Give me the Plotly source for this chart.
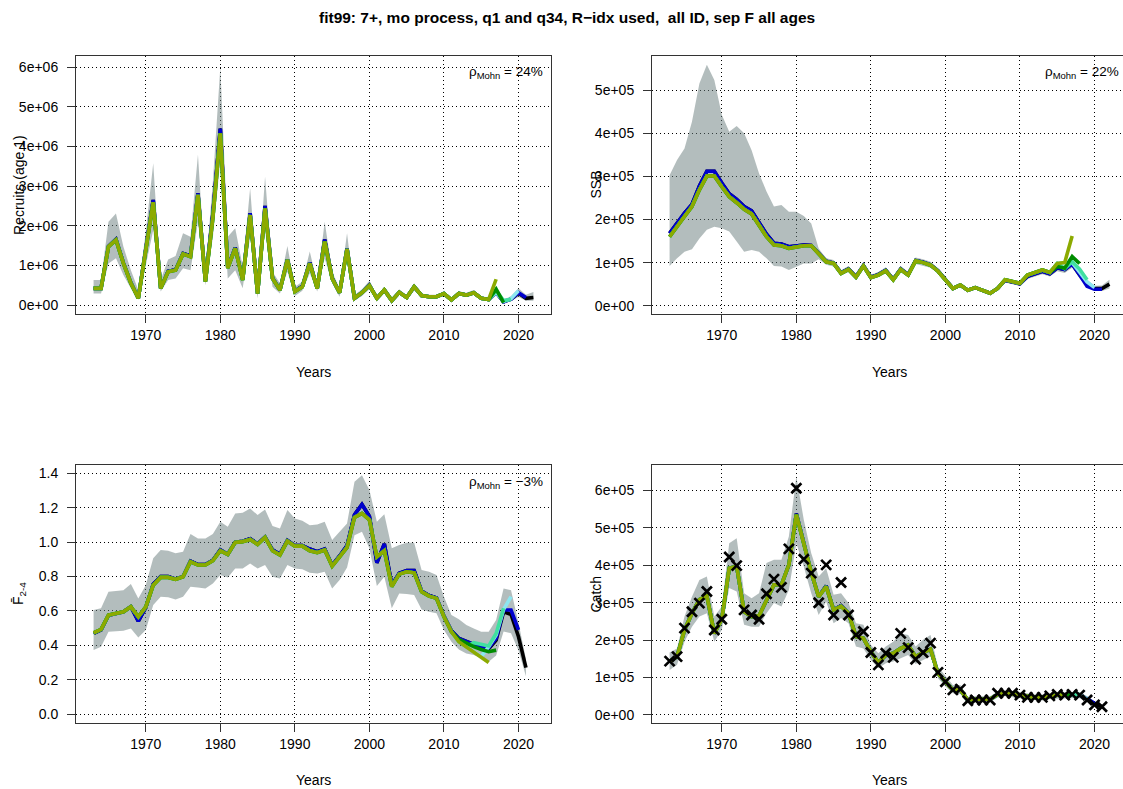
import plotly.graph_objects as go

# ---------------- data ----------------
years = list(range(1963, 2023))      # recruits, SSB
years_c = list(range(1963, 2022))    # F, catch

x_ticks = [1970, 1980, 1990, 2000, 2010, 2020]
x_ticklabels = ["1970", "1980", "1990", "2000", "2010", "2020"]

rec_ticks = [0, 1e6, 2e6, 3e6, 4e6, 5e6, 6e6]
rec_ticklabels = ["0e+00", "1e+06", "2e+06", "3e+06", "4e+06", "5e+06", "6e+06"]
ssb_ticks = [0, 1e5, 2e5, 3e5, 4e5, 5e5]
ssb_ticklabels = ["0e+00", "1e+05", "2e+05", "3e+05", "4e+05", "5e+05"]
f_ticks = [0.0, 0.2, 0.4, 0.6, 0.8, 1.0, 1.2, 1.4]
f_ticklabels = ["0.0", "0.2", "0.4", "0.6", "0.8", "1.0", "1.2", "1.4"]
catch_ticks = [0, 1e5, 2e5, 3e5, 4e5, 5e5, 6e5]
catch_ticklabels = ["0e+00", "1e+05", "2e+05", "3e+05", "4e+05", "5e+05", "6e+05"]

# Recruits (age 1), 1963-2022
rec_base = [0.42e6, 0.42e6, 1.48e6, 1.66e6, 1.06e6, 0.56e6, 0.17e6, 1.35e6, 2.65e6, 0.42e6,
            0.85e6, 0.89e6, 1.30e6, 1.24e6, 2.82e6, 0.60e6, 2.30e6, 4.45e6, 0.95e6, 1.45e6,
            0.64e6, 2.32e6, 0.29e6, 2.50e6, 0.68e6, 0.38e6, 1.15e6, 0.35e6, 0.47e6, 1.07e6,
            0.42e6, 1.65e6, 0.68e6, 0.31e6, 1.43e6, 0.17e6, 0.31e6, 0.50e6, 0.17e6, 0.38e6,
            0.11e6, 0.32e6, 0.19e6, 0.46e6, 0.24e6, 0.21e6, 0.21e6, 0.29e6, 0.13e6, 0.29e6,
            0.25e6, 0.31e6, 0.17e6, 0.14e6, 0.32e6, 0.08e6, 0.15e6, 0.30e6, 0.17e6, 0.19e6]
rec_hi = [0.63e6, 0.63e6, 2.10e6, 2.31e6, 1.47e6, 0.88e6, 0.38e6, 1.85e6, 3.58e6, 0.63e6,
          1.15e6, 1.24e6, 1.81e6, 1.72e6, 3.79e6, 0.80e6, 3.10e6, 6.00e6, 1.72e6, 1.94e6,
          0.97e6, 2.95e6, 0.50e6, 3.24e6, 0.84e6, 0.55e6, 1.49e6, 0.46e6, 0.59e6, 1.35e6,
          0.55e6, 2.10e6, 0.84e6, 0.42e6, 1.81e6, 0.25e6, 0.40e6, 0.61e6, 0.23e6, 0.45e6,
          0.15e6, 0.40e6, 0.24e6, 0.55e6, 0.29e6, 0.26e6, 0.26e6, 0.35e6, 0.17e6, 0.35e6,
          0.31e6, 0.38e6, 0.22e6, 0.19e6, 0.42e6, 0.14e6, 0.22e6, 0.42e6, 0.26e6, 0.33e6]
rec_lo = [0.29e6, 0.29e6, 1.05e6, 1.18e6, 0.76e6, 0.42e6, 0.13e6, 1.00e6, 1.89e6, 0.34e6,
          0.63e6, 0.67e6, 0.93e6, 0.88e6, 2.10e6, 0.50e6, 1.70e6, 3.66e6, 0.67e6, 0.88e6,
          0.42e6, 1.72e6, 0.17e6, 1.89e6, 0.46e6, 0.29e6, 0.84e6, 0.23e6, 0.36e6, 0.80e6,
          0.34e6, 1.18e6, 0.55e6, 0.21e6, 1.14e6, 0.11e6, 0.23e6, 0.40e6, 0.11e6, 0.29e6,
          0.08e6, 0.26e6, 0.15e6, 0.38e6, 0.20e6, 0.17e6, 0.17e6, 0.24e6, 0.10e6, 0.24e6,
          0.20e6, 0.25e6, 0.13e6, 0.10e6, 0.24e6, 0.05e6, 0.10e6, 0.20e6, 0.11e6, 0.11e6]
rec_olive = [0.42e6, 0.42e6, 1.47e6, 1.64e6, 1.05e6, 0.55e6, 0.17e6, 1.35e6, 2.59e6, 0.42e6,
             0.84e6, 0.88e6, 1.29e6, 1.22e6, 2.78e6, 0.59e6, 2.20e6, 4.33e6, 0.93e6, 1.43e6,
             0.63e6, 2.27e6, 0.29e6, 2.44e6, 0.67e6, 0.38e6, 1.14e6, 0.34e6, 0.46e6, 1.05e6,
             0.42e6, 1.60e6, 0.67e6, 0.31e6, 1.41e6, 0.17e6, 0.31e6, 0.49e6, 0.17e6, 0.38e6,
             0.11e6, 0.32e6, 0.19e6, 0.46e6, 0.24e6, 0.21e6, 0.21e6, 0.29e6, 0.13e6, 0.29e6,
             0.25e6, 0.31e6, 0.17e6, 0.14e6, 0.65e6]
# retro peels: (last year shared with the reference run, own tail values)
# first peel (blue) shares the final run, the others share the oldest peel (olive)
rec_peels = [(2019, [0.31e6, 0.19e6]),
             (2016, [0.32e6, 0.09e6, 0.16e6, 0.36e6]),
             (2016, [0.36e6, 0.11e6, 0.14e6]),
             (2016, [0.40e6, 0.06e6])]

# SSB, 1963-2022
ssb_base = [1.68e5, 1.93e5, 2.15e5, 2.35e5, 2.78e5, 3.12e5, 3.12e5, 2.85e5, 2.60e5, 2.47e5,
            2.30e5, 2.20e5, 1.93e5, 1.66e5, 1.45e5, 1.43e5, 1.37e5, 1.40e5, 1.41e5, 1.40e5,
            1.21e5, 1.03e5, 0.99e5, 0.76e5, 0.85e5, 0.67e5, 0.93e5, 0.66e5, 0.72e5, 0.82e5,
            0.61e5, 0.85e5, 0.72e5, 1.05e5, 1.01e5, 0.95e5, 0.81e5, 0.61e5, 0.40e5, 0.48e5,
            0.36e5, 0.42e5, 0.35e5, 0.29e5, 0.40e5, 0.59e5, 0.55e5, 0.51e5, 0.68e5, 0.74e5,
            0.80e5, 0.74e5, 0.88e5, 0.84e5, 0.97e5, 0.72e5, 0.52e5, 0.40e5, 0.40e5, 0.50e5]
ssb_hi = [3.03e5, 3.38e5, 3.65e5, 4.27e5, 5.16e5, 5.59e5, 5.24e5, 4.43e5, 4.04e5, 4.17e5,
          4.00e5, 3.61e5, 3.07e5, 2.65e5, 2.30e5, 2.34e5, 2.18e5, 2.18e5, 2.08e5, 1.91e5,
          1.33e5, 1.10e5, 1.06e5, 0.82e5, 0.92e5, 0.73e5, 1.00e5, 0.72e5, 0.78e5, 0.89e5,
          0.67e5, 0.92e5, 0.78e5, 1.12e5, 1.08e5, 1.02e5, 0.87e5, 0.66e5, 0.44e5, 0.52e5,
          0.40e5, 0.46e5, 0.39e5, 0.33e5, 0.44e5, 0.64e5, 0.60e5, 0.56e5, 0.74e5, 0.80e5,
          0.87e5, 0.81e5, 0.96e5, 0.93e5, 1.06e5, 0.80e5, 0.60e5, 0.46e5, 0.47e5, 0.60e5]
ssb_lo = [0.92e5, 1.10e5, 1.25e5, 1.31e5, 1.56e5, 1.76e5, 1.83e5, 1.80e5, 1.72e5, 1.49e5,
          1.25e5, 1.29e5, 1.25e5, 1.10e5, 0.92e5, 0.91e5, 0.83e5, 0.91e5, 0.98e5, 0.98e5,
          1.08e5, 0.95e5, 0.91e5, 0.70e5, 0.78e5, 0.61e5, 0.86e5, 0.60e5, 0.66e5, 0.75e5,
          0.55e5, 0.78e5, 0.66e5, 0.97e5, 0.93e5, 0.88e5, 0.75e5, 0.56e5, 0.36e5, 0.44e5,
          0.32e5, 0.38e5, 0.31e5, 0.26e5, 0.36e5, 0.54e5, 0.50e5, 0.46e5, 0.62e5, 0.68e5,
          0.73e5, 0.68e5, 0.80e5, 0.76e5, 0.88e5, 0.63e5, 0.45e5, 0.35e5, 0.34e5, 0.40e5]
ssb_olive = [1.60e5, 1.85e5, 2.07e5, 2.30e5, 2.69e5, 3.01e5, 3.01e5, 2.76e5, 2.53e5, 2.39e5,
             2.24e5, 2.13e5, 1.87e5, 1.60e5, 1.41e5, 1.39e5, 1.33e5, 1.37e5, 1.39e5, 1.39e5,
             1.20e5, 1.02e5, 0.98e5, 0.75e5, 0.84e5, 0.66e5, 0.92e5, 0.65e5, 0.71e5, 0.81e5,
             0.60e5, 0.84e5, 0.71e5, 1.04e5, 1.00e5, 0.94e5, 0.80e5, 0.60e5, 0.40e5, 0.48e5,
             0.36e5, 0.42e5, 0.35e5, 0.29e5, 0.40e5, 0.60e5, 0.56e5, 0.52e5, 0.71e5, 0.77e5,
             0.83e5, 0.77e5, 0.98e5, 1.00e5, 1.62e5]
ssb_peels = [(2018, [0.45e5, 0.38e5, 0.38e5]),
             (2016, [1.00e5, 0.78e5, 0.55e5, 0.42e5]),
             (2015, [0.86e5, 1.02e5, 0.85e5, 0.60e5]),
             (2014, [0.91e5, 0.87e5, 1.14e5, 0.98e5])]

# mean F ages 2-4, 1963-2021
f_base = [0.470, 0.490, 0.575, 0.585, 0.595, 0.625, 0.540, 0.620, 0.755, 0.800,
          0.800, 0.785, 0.800, 0.890, 0.870, 0.870, 0.895, 0.955, 0.930, 1.000,
          1.005, 1.020, 0.990, 1.030, 0.955, 0.930, 1.010, 0.980, 0.980, 0.960,
          0.945, 0.960, 0.865, 0.920, 0.980, 1.160, 1.220, 1.150, 0.880, 0.990,
          0.750, 0.820, 0.835, 0.835, 0.715, 0.690, 0.675, 0.570, 0.485, 0.440,
          0.420, 0.405, 0.390, 0.380, 0.430, 0.595, 0.580, 0.450, 0.270]
f_hi = [0.605, 0.615, 0.712, 0.716, 0.721, 0.756, 0.673, 0.750, 0.906, 0.954,
        0.950, 0.935, 0.944, 1.047, 1.022, 1.022, 1.047, 1.119, 1.090, 1.167,
        1.171, 1.196, 1.158, 1.190, 1.094, 1.080, 1.187, 1.138, 1.125, 1.099,
        1.103, 1.119, 1.012, 1.061, 1.109, 1.352, 1.390, 1.303, 1.119, 1.163,
        0.964, 0.983, 0.997, 0.997, 0.838, 0.828, 0.809, 0.683, 0.576, 0.551,
        0.518, 0.498, 0.479, 0.479, 0.547, 0.731, 0.721, 0.530, 0.320]
f_lo = [0.372, 0.392, 0.479, 0.483, 0.485, 0.498, 0.446, 0.489, 0.634, 0.683,
        0.679, 0.667, 0.683, 0.741, 0.737, 0.731, 0.760, 0.809, 0.795, 0.847,
        0.847, 0.876, 0.847, 0.867, 0.799, 0.789, 0.867, 0.847, 0.842, 0.822,
        0.818, 0.828, 0.731, 0.780, 0.853, 1.041, 1.061, 0.964, 0.745, 0.799,
        0.615, 0.702, 0.698, 0.692, 0.609, 0.595, 0.586, 0.489, 0.421, 0.376,
        0.353, 0.343, 0.324, 0.304, 0.340, 0.480, 0.470, 0.370, 0.220]
f_olive = [0.473, 0.493, 0.576, 0.586, 0.595, 0.624, 0.566, 0.624, 0.750, 0.795,
           0.795, 0.783, 0.799, 0.886, 0.867, 0.867, 0.892, 0.950, 0.929, 0.999,
           1.003, 1.016, 0.987, 1.028, 0.950, 0.925, 1.006, 0.977, 0.977, 0.950,
           0.939, 0.954, 0.861, 0.915, 0.970, 1.144, 1.167, 1.129, 0.915, 0.950,
           0.741, 0.814, 0.828, 0.822, 0.712, 0.686, 0.673, 0.566, 0.479, 0.421,
           0.392, 0.363, 0.334, 0.300]
f_peels = [(2015, [0.385, 0.440, 0.605, 0.605, 0.490]),
           (2015, [0.392, 0.460, 0.609, 0.683]),
           (2013, [0.415, 0.405, 0.396, 0.469, 0.615]),
           (2011, [0.434, 0.411, 0.392, 0.376, 0.363, 0.372])]

# Catch, 1963-2021
catch_obs = [1.44e5, 1.56e5, 2.32e5, 2.76e5, 2.99e5, 3.30e5, 2.27e5, 2.56e5, 4.22e5, 3.99e5,
             2.81e5, 2.67e5, 2.56e5, 3.24e5, 3.63e5, 3.41e5, 4.44e5, 6.06e5, 4.16e5, 3.79e5,
             3.00e5, 4.01e5, 2.67e5, 3.54e5, 2.67e5, 2.14e5, 2.23e5, 1.67e5, 1.34e5, 1.65e5,
             1.54e5, 2.18e5, 1.80e5, 1.49e5, 1.67e5, 1.92e5, 1.14e5, 0.89e5, 0.67e5, 0.69e5,
             0.38e5, 0.40e5, 0.40e5, 0.40e5, 0.58e5, 0.58e5, 0.58e5, 0.53e5, 0.47e5, 0.47e5,
             0.47e5, 0.51e5, 0.55e5, 0.53e5, 0.55e5, 0.53e5, 0.40e5, 0.27e5, 0.22e5]
catch_base = [1.43e5, 1.56e5, 2.27e5, 2.72e5, 3.08e5, 3.18e5, 2.18e5, 2.56e5, 3.92e5, 3.97e5,
              2.76e5, 2.63e5, 2.65e5, 3.08e5, 3.48e5, 3.48e5, 4.01e5, 5.38e5, 4.55e5, 3.81e5,
              3.16e5, 3.45e5, 2.81e5, 2.92e5, 2.72e5, 2.10e5, 2.05e5, 1.69e5, 1.40e5, 1.60e5,
              1.65e5, 1.78e5, 1.87e5, 1.56e5, 1.67e5, 1.76e5, 1.11e5, 0.89e5, 0.67e5, 0.67e5,
              0.40e5, 0.42e5, 0.42e5, 0.42e5, 0.55e5, 0.58e5, 0.56e5, 0.53e5, 0.49e5, 0.47e5,
              0.47e5, 0.51e5, 0.53e5, 0.53e5, 0.53e5, 0.53e5, 0.42e5, 0.30e5, 0.22e5]
catch_hi = [1.67e5, 1.78e5, 2.63e5, 3.16e5, 3.61e5, 3.70e5, 2.63e5, 2.90e5, 4.59e5, 4.72e5,
            3.25e5, 3.12e5, 3.25e5, 4.06e5, 4.15e5, 4.15e5, 4.77e5, 6.37e5, 5.22e5, 4.32e5,
            3.70e5, 3.92e5, 3.21e5, 3.25e5, 2.99e5, 2.45e5, 2.41e5, 1.87e5, 1.65e5, 1.83e5,
            1.96e5, 2.18e5, 2.14e5, 1.83e5, 2.01e5, 2.14e5, 1.29e5, 1.03e5, 0.80e5, 0.80e5,
            0.49e5, 0.50e5, 0.50e5, 0.50e5, 0.63e5, 0.66e5, 0.64e5, 0.61e5, 0.57e5, 0.55e5,
            0.55e5, 0.59e5, 0.61e5, 0.61e5, 0.61e5, 0.61e5, 0.50e5, 0.37e5, 0.28e5]
catch_lo = [1.20e5, 1.34e5, 1.96e5, 2.36e5, 2.63e5, 2.72e5, 1.96e5, 2.27e5, 3.39e5, 3.30e5,
            2.41e5, 2.36e5, 2.36e5, 2.72e5, 2.99e5, 2.90e5, 3.34e5, 4.59e5, 3.97e5, 3.25e5,
            2.67e5, 3.03e5, 2.45e5, 2.59e5, 2.45e5, 1.83e5, 1.78e5, 1.47e5, 1.25e5, 1.38e5,
            1.43e5, 1.52e5, 1.60e5, 1.36e5, 1.47e5, 1.56e5, 0.98e5, 0.76e5, 0.58e5, 0.56e5,
            0.31e5, 0.34e5, 0.34e5, 0.34e5, 0.47e5, 0.50e5, 0.48e5, 0.45e5, 0.41e5, 0.39e5,
            0.39e5, 0.43e5, 0.45e5, 0.45e5, 0.45e5, 0.45e5, 0.34e5, 0.24e5, 0.17e5]
catch_olive = [1.43e5, 1.56e5, 2.27e5, 2.72e5, 3.08e5, 3.18e5, 2.18e5, 2.56e5, 3.92e5, 3.97e5,
               2.76e5, 2.63e5, 2.65e5, 3.08e5, 3.48e5, 3.48e5, 4.01e5, 5.35e5, 4.55e5, 3.81e5,
               3.16e5, 3.43e5, 2.81e5, 2.90e5, 2.72e5, 2.10e5, 2.05e5, 1.69e5, 1.40e5, 1.60e5,
               1.65e5, 1.78e5, 1.87e5, 1.56e5, 1.67e5, 1.76e5, 1.11e5, 0.89e5, 0.67e5, 0.67e5,
               0.40e5, 0.42e5, 0.42e5, 0.42e5, 0.55e5, 0.58e5, 0.56e5, 0.53e5, 0.49e5, 0.47e5,
               0.47e5, 0.51e5, 0.53e5, 0.53e5]
catch_peels = [(2018, [0.43e5, 0.31e5]),
               (2016, [0.53e5, 0.54e5, 0.44e5]),
               (2016, [0.54e5, 0.55e5]),
               (2015, [0.54e5, 0.54e5])]

mohn_rec = "24%"
mohn_ssb = "22%"
mohn_f = "\u22123%"

for arr in (rec_base, rec_hi, rec_lo, ssb_base, ssb_hi, ssb_lo):
    assert len(arr) == len(years), len(arr)
for arr in (f_base, f_hi, f_lo, catch_obs, catch_base, catch_hi, catch_lo):
    assert len(arr) == len(years_c), len(arr)

# ---------------- styling ----------------
FONT = "Liberation Sans, Arial, Helvetica, sans-serif"
BAND = "rgba(104,124,124,0.5)"
BASE_COL = "#000000"
PEEL_COLS = ["#0000CD", "#8CE6F0", "#40E0A0", "#008C00"]
OLIVE_COL = "#8CAA00"
LW = 3.6
TICKFS = 14

W, H = 1123, 789
def px_x(p): return p / W
def px_y(p): return 1 - p / H

panels = [
    dict(xa="x", ya="y", yrs=years, base=rec_base, hi=rec_hi, lo=rec_lo, olive=rec_olive,
         peels=rec_peels, xdom=[px_x(76), px_x(551)], ydom=[px_y(314), px_y(56)],
         xr=[1960.64, 2024.36], yr=[-0.227e6, 6.285e6], tv=rec_ticks, tt=rec_ticklabels,
         right=False),
    dict(xa="x2", ya="y2", yrs=years, base=ssb_base, hi=ssb_hi, lo=ssb_lo, olive=ssb_olive,
         peels=ssb_peels, xdom=[px_x(652), 1.0], ydom=[px_y(314), px_y(56)],
         xr=[1960.64, 2023.82], yr=[-0.193e5, 5.796e5], tv=ssb_ticks, tt=ssb_ticklabels,
         right=True),
    dict(xa="x3", ya="y3", yrs=years_c, base=f_base, hi=f_hi, lo=f_lo, olive=f_olive,
         peels=f_peels, xdom=[px_x(76), px_x(551)], ydom=[px_y(723), px_y(465)],
         xr=[1960.64, 2024.36], yr=[-0.052, 1.449], tv=f_ticks, tt=f_ticklabels,
         right=False),
    dict(xa="x4", ya="y4", yrs=years_c, base=catch_base, hi=catch_hi, lo=catch_lo,
         olive=catch_olive, peels=catch_peels, xdom=[px_x(652), 1.0],
         ydom=[px_y(723), px_y(465)], xr=[1960.64, 2023.82], yr=[-0.214e5, 6.68e5],
         tv=catch_ticks, tt=catch_ticklabels, right=True),
]

fig = go.Figure()
layout = dict(width=W, height=H, margin=dict(l=0, r=0, t=0, b=0),
              paper_bgcolor="white", plot_bgcolor="white", showlegend=False,
              font=dict(family=FONT, size=13.5, color="black"))

for i, p in enumerate(panels):
    yrs = p["yrs"]
    # confidence band of the final run
    fig.add_trace(go.Scatter(x=yrs + yrs[::-1], y=p["hi"] + p["lo"][::-1], fill="toself",
                             fillcolor=BAND, line=dict(width=0), mode="lines",
                             hoverinfo="skip", xaxis=p["xa"], yaxis=p["ya"]))
    # final run
    fig.add_trace(go.Scatter(x=yrs, y=p["base"], mode="lines",
                             line=dict(color=BASE_COL, width=LW),
                             xaxis=p["xa"], yaxis=p["ya"]))
    # retrospective peels
    for k, ((last_common, tail), col) in enumerate(zip(p["peels"], PEEL_COLS)):
        src = p["base"] if k == 0 else p["olive"]
        n = yrs.index(last_common) + 1
        assert n <= len(src)
        vals = src[:n] + tail
        fig.add_trace(go.Scatter(x=yrs[:len(vals)], y=vals, mode="lines",
                                 line=dict(color=col, width=LW),
                                 xaxis=p["xa"], yaxis=p["ya"]))
    fig.add_trace(go.Scatter(x=yrs[:len(p["olive"])], y=p["olive"], mode="lines",
                             line=dict(color=OLIVE_COL, width=LW),
                             xaxis=p["xa"], yaxis=p["ya"]))

    xkey = "xaxis" if i == 0 else f"xaxis{i+1}"
    ykey = "yaxis" if i == 0 else f"yaxis{i+1}"
    layout[xkey] = dict(domain=p["xdom"], range=p["xr"], anchor=p["ya"],
                        tickvals=x_ticks, ticktext=x_ticklabels,
                        showline=True, linecolor="#333333", linewidth=1, mirror=True,
                        ticks="outside", ticklen=8, tickcolor="#333333", tickwidth=1,
                        showgrid=True, gridcolor="black", gridwidth=1,
                        griddash="1px,3px", zeroline=False,
                        tickfont=dict(family=FONT, size=TICKFS, color="black"))
    layout[ykey] = dict(domain=p["ydom"], range=p["yr"], anchor=p["xa"],
                        tickvals=p["tv"], ticktext=p["tt"],
                        showline=True, linecolor="#333333", linewidth=1,
                        mirror=(not p["right"]),
                        ticks="outside", ticklen=8, tickcolor="#333333", tickwidth=1,
                        ticklabelstandoff=6,
                        showgrid=True, gridcolor="black", gridwidth=1,
                        griddash="1px,3px", zeroline=False,
                        tickfont=dict(family=FONT, size=TICKFS, color="black"))

# observed catch
fig.add_trace(go.Scatter(x=years_c, y=catch_obs, mode="markers",
                         marker=dict(symbol="x-thin", size=10, color="black",
                                     line=dict(width=2.7, color="black")),
                         xaxis="x4", yaxis="y4"))

ann = []
title = "fit99: 7+, mo process, q1 and q34, R\u2212idx used,  all ID, sep F all ages"
ann.append(dict(text="<b>" + title + "</b>", x=px_x(567), y=px_y(17), xref="paper",
                yref="paper", showarrow=False, xanchor="center", yanchor="middle",
                font=dict(family=FONT, size=15.5, color="black")))
for cx, cy in [(313.5, 372), (889.5, 372), (313.5, 780), (889.5, 780)]:
    ann.append(dict(text="Years", x=px_x(cx), y=px_y(cy), xref="paper", yref="paper",
                    showarrow=False, xanchor="center", yanchor="middle",
                    font=dict(family=FONT, size=14)))
ylabels = [("Recruits (age 1)", 19, 185), ("SSB", 595.5, 185),
           ("F\u0304<sub>2-4</sub>", 19, 594), ("Catch", 595.5, 594)]
for txt, cx, cy in ylabels:
    ann.append(dict(text=txt, x=px_x(cx), y=px_y(cy), xref="paper", yref="paper",
                    showarrow=False, xanchor="center", yanchor="middle", textangle=-90,
                    font=dict(family=FONT, size=14, color="black")))
for val, cx, cy in [(mohn_rec, 545, 72), (mohn_ssb, 1121, 72), (mohn_f, 545, 482)]:
    ann.append(dict(text="\u03c1<sub>Mohn</sub> = " + val, x=px_x(cx), y=px_y(cy),
                    xref="paper", yref="paper", showarrow=False, xanchor="right",
                    yanchor="middle", font=dict(family=FONT, size=13.5)))
layout["annotations"] = ann

fig.update_layout(**layout)
fig.write_html("out.html")
